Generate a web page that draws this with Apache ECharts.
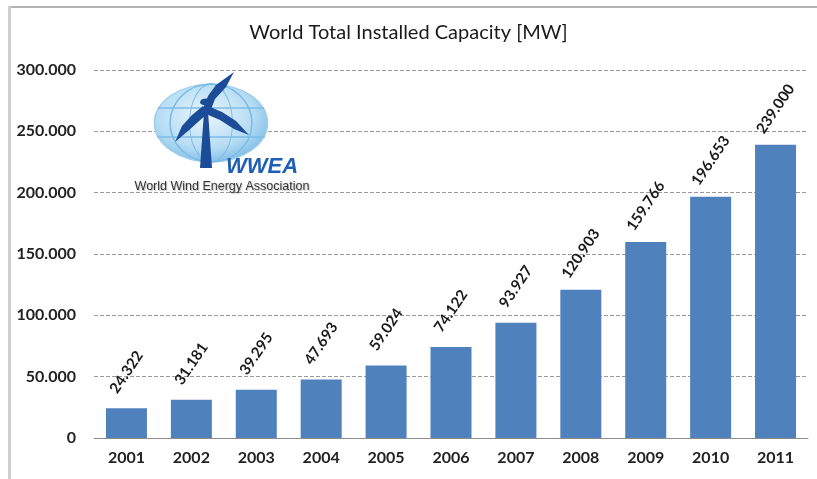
<!DOCTYPE html>
<html>
<head>
<meta charset="utf-8">
<script src="https://cdn.jsdelivr.net/npm/echarts@6/dist/echarts.min.js"></script>
<style>
html,body{margin:0;padding:0;background:#fff;}
#c{width:817px;height:479px;}
</style>
</head>
<body>
<div id="c"></div>
<script>
const years = ['2001','2002','2003','2004','2005','2006','2007','2008','2009','2010','2011'];
const capacity = [24322, 31181, 39295, 47693, 59024, 74122, 93927, 120903, 159766, 196653, 239000];
const titleText = 'World Total Installed Capacity [MW]';
const yTicks = [0, 50000, 100000, 150000, 200000, 250000, 300000];

function fmt(v){ return String(v).replace(/\B(?=(\d{3})+(?!\d))/g, '.'); }

const FONT = 'Lato, "Open Sans", sans-serif';
const chart = echarts.init(document.getElementById('c'));
const navy = '#1c4c98';

chart.setOption({
  animation: false,
  backgroundColor: '#fff',
  title: {
    text: titleText, left: 'center', top: 18,
    textStyle: {fontFamily: FONT, fontSize: 20, fontWeight: 'normal', color: '#1a1a1a'}
  },
  grid: {left: 94, right: 9, top: 70, bottom: 41},
  xAxis: {
    type: 'category', data: years,
    axisTick: {show: false},
    axisLine: {lineStyle: {color: '#8c8c8c', width: 1}},
    axisLabel: {fontFamily: FONT, fontSize: 16, fontWeight: 'bold', color: '#222', margin: 12}
  },
  yAxis: {
    type: 'value', min: yTicks[0], max: yTicks[yTicks.length-1], interval: 50000,
    axisLine: {show: false}, axisTick: {show: false},
    axisLabel: {fontFamily: FONT, fontSize: 16, fontWeight: 'bold', color: '#222', margin: 18,
      formatter: v => fmt(v)},
    splitLine: {lineStyle: {color: '#9a9a9a', type: [4, 2], width: 1}}
  },
  series: [{
    type: 'bar', data: capacity, barWidth: 41,
    itemStyle: {color: '#4f81bd'},
    label: {
      show: true, position: 'top', distance: 36, rotate: 56,
      align: 'center', verticalAlign: 'middle',
      fontFamily: FONT, fontSize: 15, fontWeight: 'bold', color: '#1a1a1a',
      formatter: p => fmt(p.value)
    }
  }],
  graphic: [
    {type: 'rect', shape: {x: 8, y: 6, width: 809, height: 2}, style: {fill: '#b3b3b3'}, silent: true},
    {type: 'rect', shape: {x: 8, y: 6, width: 3, height: 473}, style: {fill: '#cfcfcf'}, silent: true},
    // globe
    {type: 'circle', x: 211, y: 123, scaleX: 1.45, shape: {cx: 0, cy: 0, r: 39},
      style: {fill: new echarts.graphic.RadialGradient(0.45, 0.4, 0.7, [
        {offset: 0, color: '#eaf6fd'}, {offset: 0.6, color: '#b5dcf4'}, {offset: 1, color: '#6cb2e0'}]),
        stroke: '#9ccdee', lineWidth: 1}, silent: true, z: 10},
    {type: 'circle', x: 211, y: 123, scaleX: 0.55, shape: {cx: 0, cy: 0, r: 39},
      style: {fill: 'none', stroke: '#7dbbe6', lineWidth: 1.5}, silent: true, z: 11},
    {type: 'circle', x: 211, y: 123, scaleX: 1.05, shape: {cx: 0, cy: 0, r: 39},
      style: {fill: 'none', stroke: '#7dbbe6', lineWidth: 1.5}, silent: true, z: 11},
    {type: 'line', shape: {x1: 158, y1: 108, x2: 264, y2: 108}, style: {stroke: '#7dbbe6', lineWidth: 1.5}, silent: true, z: 11},
    {type: 'line', shape: {x1: 157, y1: 137, x2: 265, y2: 137}, style: {stroke: '#7dbbe6', lineWidth: 1.5}, silent: true, z: 11},
    // tower
    {type: 'polygon', shape: {points: [[204, 112], [208, 112], [212, 168], [200, 168]]},
      style: {fill: navy}, silent: true, z: 12},
    {type: 'circle', shape: {cx: 206, cy: 170, r: 6}, scaleY: 0.6, style: {fill: navy}, silent: true, z: 12},
    // blades
    {type: 'polygon', shape: {points: [[203, 109], [208, 96], [216, 85], [234, 72], [226, 87], [215, 99], [210, 112]]},
      style: {fill: navy}, silent: true, z: 12},
    {type: 'polygon', shape: {points: [[203, 106], [192, 115], [182, 126], [175, 142], [188, 131], [198, 122], [207, 114]]},
      style: {fill: navy}, silent: true, z: 12},
    {type: 'polygon', shape: {points: [[208, 106], [222, 112], [236, 121], [249, 135], [234, 129], [220, 120], [206, 114]]},
      style: {fill: navy}, silent: true, z: 12},
    {type: 'circle', shape: {cx: 206, cy: 110, r: 4}, style: {fill: navy}, silent: true, z: 13},
    // logo texts
    {type: 'text', x: 226, y: 167, style: {text: 'WWEA', fill: '#1f5fb5', font: 'italic bold 22px Arial, "Liberation Sans", sans-serif',
      textVerticalAlign: 'middle'}, silent: true, z: 13},
    {type: 'text', x: 222, y: 187, style: {text: 'World Wind Energy Association', fill: '#333',
      font: '12.5px Arial, "Liberation Sans", sans-serif', textAlign: 'center', textVerticalAlign: 'middle',
      textShadowColor: 'rgba(0,0,0,0.25)', textShadowBlur: 1, textShadowOffsetX: 1, textShadowOffsetY: 1}, silent: true, z: 13}
  ]
});
</script>
</body>
</html>
